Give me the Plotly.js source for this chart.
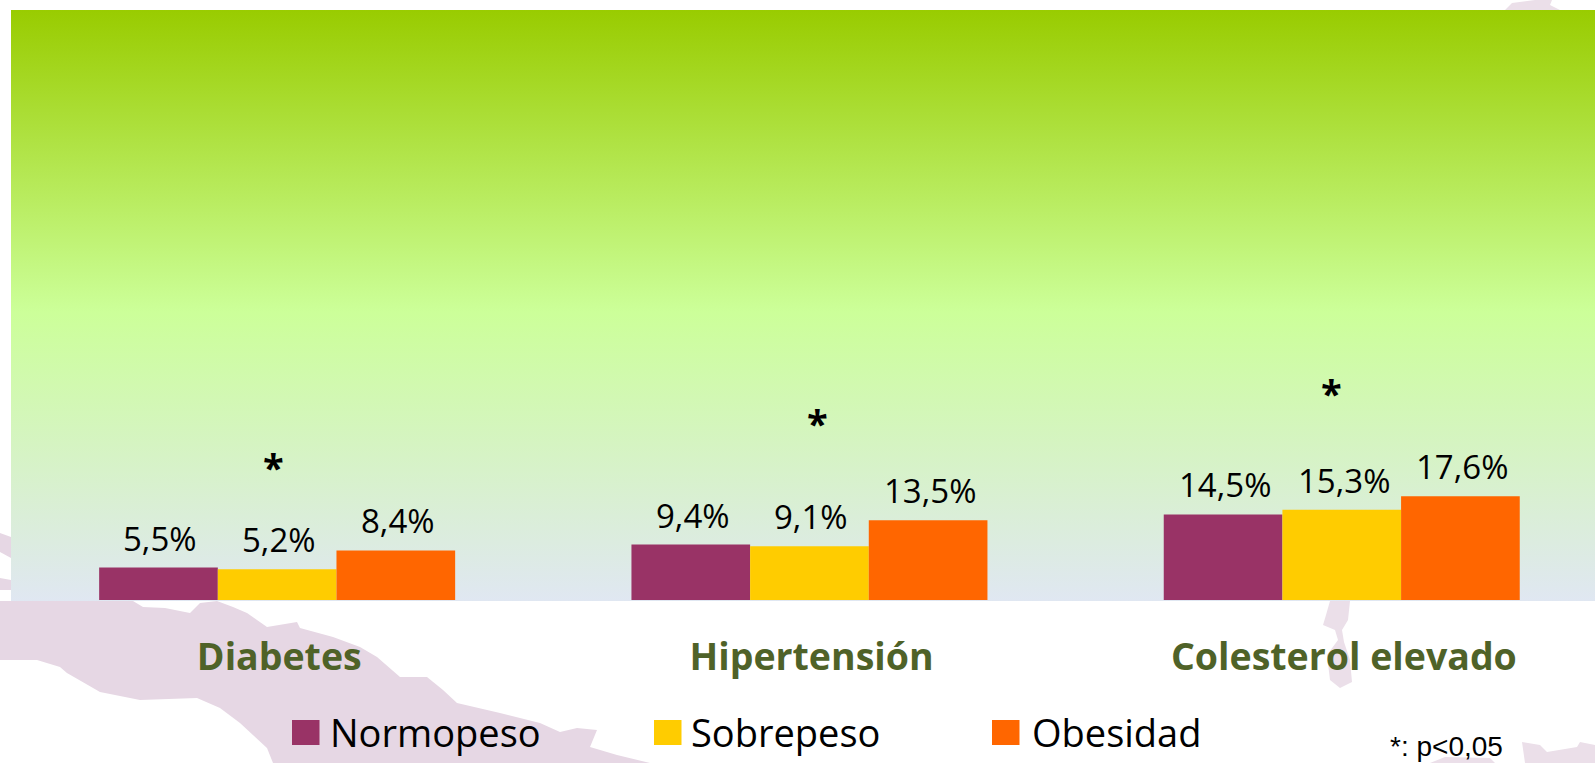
<!DOCTYPE html>
<html>
<head>
<meta charset="utf-8">
<script src="https://cdn.plot.ly/plotly-3.0.1.min.js"></script>
<style>html,body{margin:0;padding:0;background:#fff;overflow:hidden}</style>
</head>
<body>
<div id="chart" style="width:1595px;height:763px"></div>
<script>
const categories = ['Diabetes', 'Hipertensión', 'Colesterol elevado'];
const seriesNames = ['Normopeso', 'Sobrepeso', 'Obesidad'];
const seriesColors = ['#993366', '#FFCC00', '#FF6600'];
const normopeso = [5.5, 9.4, 14.5];
const sobrepeso = [5.2, 9.1, 15.3];
const obesidad = [8.4, 13.5, 17.6];
const seriesValues = [normopeso, sobrepeso, obesidad];
const significance = ['*', '*', '*'];
const footnote = '*: p<0,05';

const W = 1595, H = 763, L = 11, T = 10, B = 600;
const plotW = W - L, plotH = B - T;
const unitsPerGroup = 532.3;
const BARGAP = 1 - 356 / unitsPerGroup;
const slot = (1 - BARGAP) / 3;

// Decorative background: pale map silhouette and gradient panel
const mapShapes = [
  [[0,601],[133,601],[143,607],[165,608],[190,613],[200,603],[217,601],[233,607],[247,613],[267,627],[297,622],[300,628],[333,637],[360,647],[377,657],[400,677],[427,677],[443,690],[457,703],[500,713],[540,723],[560,732],[577,728],[597,730],[590,747],[617,755],[650,763],[273,763],[267,748],[240,723],[220,708],[197,698],[140,700],[100,692],[67,673],[60,667],[37,660],[0,660]],
  [[0,533],[11,537],[11,558],[0,552]],
  [[0,578],[11,580],[11,590],[0,590]],
  [[1330,601],[1350,601],[1348,620],[1342,630],[1344,642],[1350,660],[1352,682],[1340,688],[1330,680],[1327,655],[1338,640],[1335,630],[1323,625],[1326,615]],
  [[1522,742],[1540,745],[1547,752],[1577,747],[1580,742],[1595,745],[1595,763],[1525,763]],
  [[1430,763],[1445,757],[1490,758],[1495,763]],
  [[1505,10],[1512,3],[1535,0],[1552,0],[1550,5],[1560,10]]
];
function backgroundImage() {
  const c = document.createElement('canvas');
  c.width = W; c.height = H;
  const g = c.getContext('2d');
  g.fillStyle = '#ffffff'; g.fillRect(0, 0, W, H);
  mapShapes.forEach((p, n) => {
    g.fillStyle = n >= 3 ? '#EBDFE9' : '#E6D7E4';
    g.beginPath();
    p.forEach((q, i) => i ? g.lineTo(q[0], q[1]) : g.moveTo(q[0], q[1]));
    g.closePath(); g.fill();
  });
  const gr = g.createLinearGradient(0, T, 0, B + 1);
  gr.addColorStop(0, '#99CC00');
  gr.addColorStop(0.51, '#CCFF99');
  gr.addColorStop(1, '#E0E7F2');
  g.fillStyle = gr;
  g.fillRect(L, T, W - L, B + 1 - T);
  return c.toDataURL('image/png');
}

const groupIdx = categories.map((_, i) => i);
const traces = seriesNames.map((name, s) => ({
  type: 'bar',
  name: name,
  x: groupIdx,
  y: seriesValues[s],
  marker: { color: seriesColors[s] },
  hoverinfo: 'x+y',
  showlegend: false
}));

const annotations = [];
const fmt = v => v.toFixed(1).replace('.', ',') + '%';
seriesNames.forEach((_, s) => {
  seriesValues[s].forEach((v, i) => {
    annotations.push({
      x: i + (s - 1) * slot, y: v, xref: 'x', yref: 'y',
      text: fmt(v), showarrow: false, xanchor: 'center', yanchor: 'bottom',
      xshift: 2, yshift: 5,
      font: { family: 'Open Sans', size: 33, color: '#000000' }
    });
  });
});
const starPos = [[273, 23.4], [817, 30.8], [1331, 35.9]];
significance.forEach((t, i) => {
  annotations.push({
    x: (starPos[i][0] - L) / plotW, xref: 'paper', y: starPos[i][1], yref: 'y',
    text: '<b>' + t + '</b>', showarrow: false, xanchor: 'center', yanchor: 'middle', yshift: -5,
    font: { family: 'Open Sans', size: 38, color: '#000000' }
  });
});

// Legend entries: swatch + label
const legendSwatchX = [292, 654, 992];
const legendTextX = [328, 689, 1030];
const shapes = [];
seriesNames.forEach((name, s) => {
  shapes.push({
    type: 'rect', xref: 'paper', yref: 'paper', layer: 'above',
    x0: (legendSwatchX[s] - L) / plotW, x1: (legendSwatchX[s] + 27.5 - L) / plotW,
    y0: (B - 745) / plotH, y1: (B - 720) / plotH,
    fillcolor: seriesColors[s], line: { width: 0 }
  });
  annotations.push({
    x: (legendTextX[s] - L) / plotW, xref: 'paper', y: (B - 732) / plotH, yref: 'paper',
    text: name, showarrow: false, xanchor: 'left', yanchor: 'middle',
    font: { family: 'Open Sans', size: 38, color: '#000000' }
  });
});
annotations.push({
  x: (1388 - L) / plotW, xref: 'paper', y: (B - 746) / plotH, yref: 'paper',
  text: footnote, showarrow: false, xanchor: 'left', yanchor: 'middle',
  font: { family: 'Liberation Sans', size: 28, color: '#000000' }
});

const layout = {
  width: W, height: H,
  margin: { l: L, r: 0, t: T, b: H - B, pad: 0 },
  paper_bgcolor: 'rgba(0,0,0,0)',
  plot_bgcolor: 'rgba(0,0,0,0)',
  barmode: 'group',
  bargap: BARGAP,
  bargroupgap: 0,
  showlegend: false,
  xaxis: {
    type: 'linear',
    range: [-0.5, -0.5 + plotW / unitsPerGroup],
    tickmode: 'array', tickvals: groupIdx.map(i => i + 0.004), ticktext: categories,
    showgrid: false, zeroline: false, showline: false,
    ticks: 'outside', ticklen: 24, tickcolor: 'rgba(0,0,0,0)',
    tickfont: { family: 'Open Sans', size: 37.5, color: '#4F6228', weight: 700 },
    tickangle: 0, automargin: false
  },
  yaxis: {
    range: [0, 100], visible: false, showgrid: false, zeroline: false
  },
  images: [{
    source: backgroundImage(), xref: 'paper', yref: 'paper',
    x: -L / plotW, y: 1 + T / plotH, sizex: W / plotW, sizey: H / plotH,
    xanchor: 'left', yanchor: 'top', sizing: 'stretch', layer: 'below'
  }],
  shapes: shapes,
  annotations: annotations
};
Plotly.newPlot('chart', traces, layout, { displayModeBar: false, responsive: false });
</script>
</body>
</html>
